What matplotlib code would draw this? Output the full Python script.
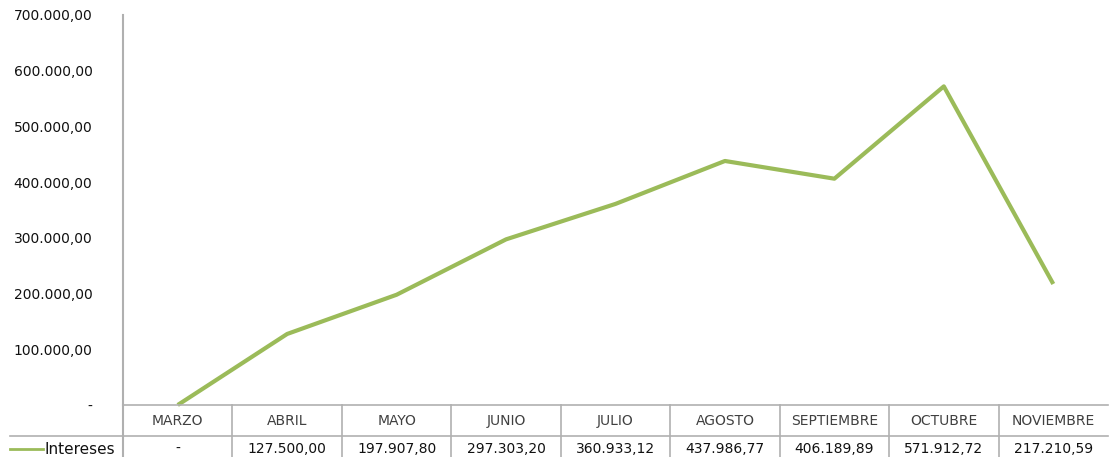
import matplotlib.pyplot as plt

meses = ["MARZO", "ABRIL", "MAYO", "JUNIO", "JULIO", "AGOSTO",
         "SEPTIEMBRE", "OCTUBRE", "NOVIEMBRE"]
intereses = [0, 127500.00, 197907.80, 297303.20, 360933.12, 437986.77,
             406189.89, 571912.72, 217210.59]
celdas = ["-", "127.500,00", "197.907,80", "297.303,20", "360.933,12",
          "437.986,77", "406.189,89", "571.912,72", "217.210,59"]
yticks = [0, 100000, 200000, 300000, 400000, 500000, 600000, 700000]
verde = "#9bbb59"
gris = "#b0b0b0"

W, H = 1109, 457
fig = plt.figure(figsize=(W / 100, H / 100), dpi=100)
x0, x1, ytop, ybot = 123, 1108, 15, 405
ax = fig.add_axes([x0 / W, (H - ybot) / H, (x1 - x0) / W, (ybot - ytop) / H])

x = list(range(len(meses)))
ax.plot(x, intereses, color=verde, lw=3, solid_capstyle="butt", clip_on=False)
ax.set_xlim(-0.5, len(meses) - 0.5)
ax.set_ylim(0, 700000)

def fmt(v):
    if v == 0:
        return "-"
    return f"{v:,.2f}".replace(",", "X").replace(".", ",").replace("X", ".")

ax.set_yticks(yticks)
ax.set_yticklabels([fmt(v) for v in yticks], fontsize=10, color="#111111")
ax.tick_params(axis="y", length=0, pad=22)
ax.set_xticks([])
for s in ["top", "right", "bottom"]:
    ax.spines[s].set_visible(False)
ax.spines["left"].set_color(gris)
ax.spines["left"].set_linewidth(1.5)

# tabla de datos debajo del grafico
h_px = ybot - ytop
def fy(px):
    return -(px - ybot) / h_px

tr = ax.transAxes
ax.plot([0, 1], [0, 0], color=gris, lw=1.2, transform=tr, clip_on=False)
ax.plot([-(x0 - 10) / (x1 - x0), 1], [fy(436), fy(436)], color=gris, lw=1.2,
        transform=tr, clip_on=False)
ax.plot([0, 0], [0, fy(460)], color=gris, lw=1.5, transform=tr, clip_on=False)
n = len(meses)
for i in range(1, n):
    ax.plot([i / n, i / n], [0, fy(460)], color=gris, lw=1.2, transform=tr,
            clip_on=False)
for i, (m, c) in enumerate(zip(meses, celdas)):
    ax.text((i + 0.5) / n, fy(421), m, transform=tr, ha="center", va="center",
            fontsize=10, color="#404040")
    ax.text((i + 0.5) / n, fy(449), c, transform=tr, ha="center", va="center",
            fontsize=10, color="#111111")

fig.lines.append(plt.Line2D([10 / W, 43 / W], [1 - 449 / H, 1 - 449 / H],
                            color=verde, lw=2, transform=fig.transFigure))
fig.text(45 / W, 1 - 449 / H, "Intereses", ha="left", va="center",
         fontsize=11, color="#111111")

fig.savefig("out.png", dpi=100)
